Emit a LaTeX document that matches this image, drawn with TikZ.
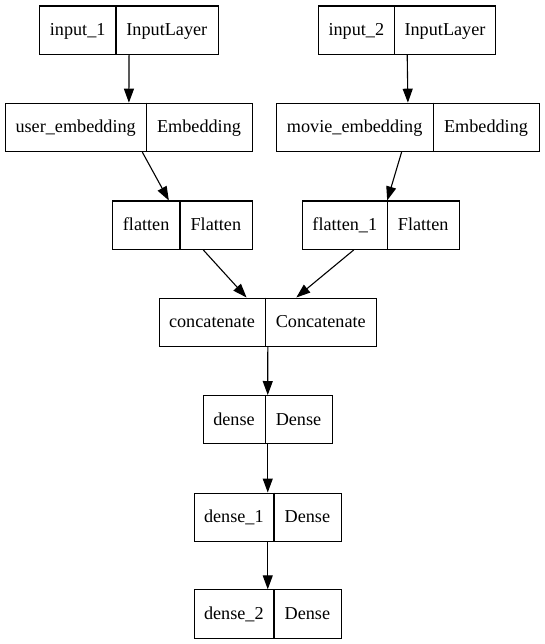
\documentclass[tikz,border=0pt]{standalone}
\usepackage{fontspec}
\setmainfont{Liberation Serif}
\usetikzlibrary{arrows.meta,calc}
\newcommand\recbox[9]{%
  \node[rec, minimum width=#3pt] (#1) at (#2,#4) {};
  \draw[divline] ($(#1.north west)+(#5,0)$) -- ($(#1.south west)+(#5,0)$);
  \node[lbl] (#1-n) at (#6,{#4+30.2}) {#8};
  \node[lbl] (#1-t) at (#7,{#4+30.2}) {#9};
}
\begin{document}
\begin{tikzpicture}[x=1pt,y=-1pt,
  rec/.style={draw, line width=1.1pt, minimum height=48.3pt, inner sep=0pt, anchor=north west},
  divline/.style={line width=1.1pt},
  lbl/.style={font=\fontsize{18.2}{22}\selectfont, inner sep=0pt, anchor=base},
  arr/.style={draw, line width=1.1pt, -{Triangle[length=14pt,width=10pt]}}]
\useasboundingbox (0,0) rectangle (544,644);
\recbox{in1}{39.3}{178.4}{5.5}{76.7}{77.65}{166.85}{input\_1}{InputLayer}
\recbox{in2}{318}{177.3}{5.5}{76.7}{356.35}{445}{input\_2}{InputLayer}
\recbox{ue}{5}{246.7}{102.7}{141.3}{75.65}{199}{user\_embedding}{Embedding}
\recbox{me}{276}{262.7}{102.7}{157.3}{354.65}{486}{movie\_embedding}{Embedding}
\recbox{fl}{112.3}{139.4}{200.5}{67.7}{146.15}{215.85}{flatten}{Flatten}
\recbox{fla}{302.3}{156.7}{200.5}{85}{344.8}{423.15}{flatten\_1}{Flatten}
\recbox{cc}{158.5}{217.5}{297.5}{107}{212}{320.75}{concatenate}{Concatenate}
\recbox{d}{202.7}{129}{395}{62.6}{234}{298.5}{dense}{Dense}
\recbox{da}{193.7}{147}{492.5}{80.3}{233.85}{307.35}{dense\_1}{Dense}
\recbox{db}{193.7}{147}{589.3}{80.3}{233.85}{307.35}{dense\_2}{Dense}
\draw[arr] (in1.south) -- (ue.north);
\draw[arr] (in2.south) -- (me.north);
\draw[arr] ($(ue.south)+(13.4,0)$) -- ($(fl.north)+(-13.7,0)$);
\draw[arr] ($(me.south)+(-6.3,0)$) -- ($(fla.north)+(6,0)$);
\draw[arr] ($(fl.south)+(20.7,0)$) -- ($(cc.north)+(-21.25,0)$);
\draw[arr] ($(fla.south)+(-27.4,0)$) -- ($(cc.north)+(28.5,0)$);
\draw[arr] (cc.south) -- (d.north);
\draw[arr] (d.south) -- (da.north);
\draw[arr] (da.south) -- (db.north);
\end{tikzpicture}
\end{document}
